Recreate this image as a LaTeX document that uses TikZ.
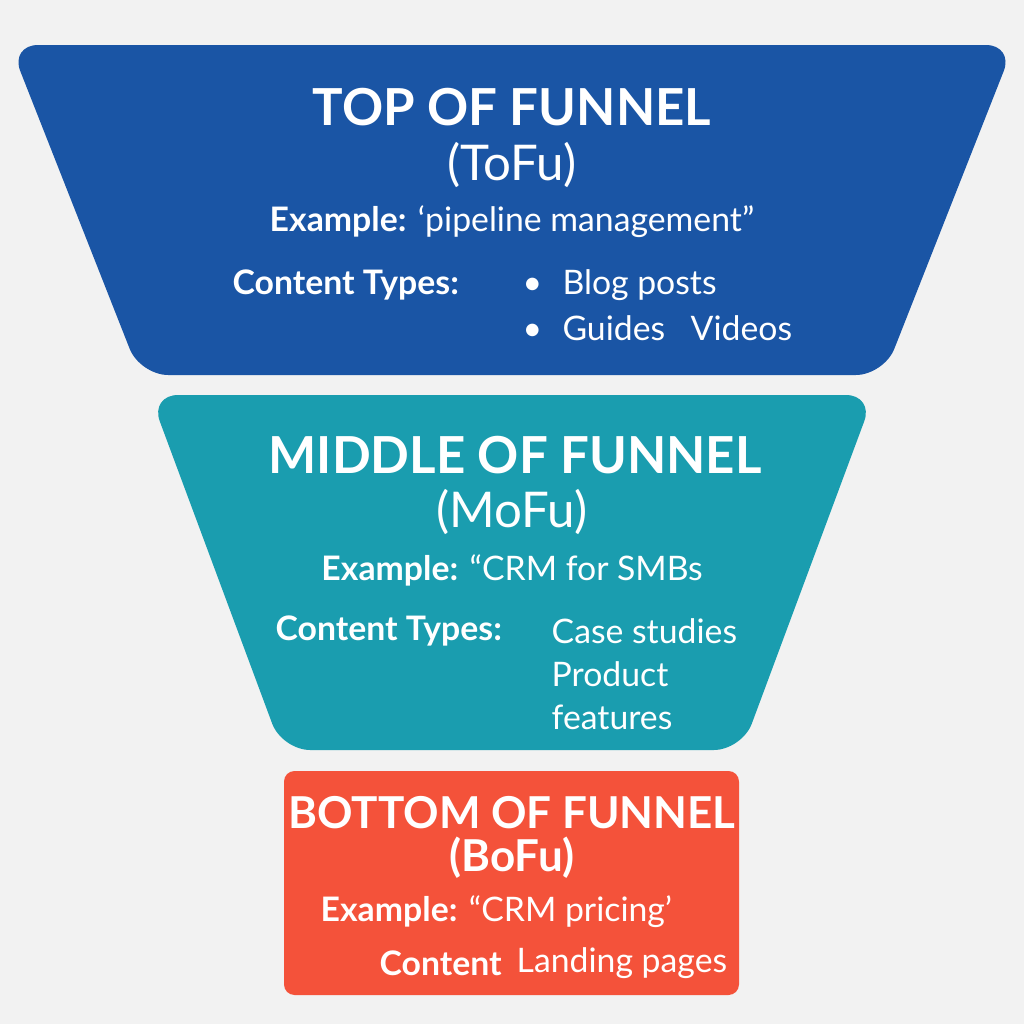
\documentclass[tikz,border=0pt]{standalone}
\usepackage{fontspec}
\setmainfont{Lato}
\definecolor{tofublue}{RGB}{26,85,165}
\definecolor{mofuteal}{RGB}{26,157,175}
\definecolor{bofured}{RGB}{244,82,58}
\definecolor{bggray}{RGB}{242,242,242}
\tikzset{
  stagetitle/.style={text=white,font=\bfseries\fontsize{14.5}{16}\selectfont},
  stagetag/.style={text=white,font=\fontsize{14}{16}\selectfont},
  stagetext/.style={text=white,font=\fontsize{9.6}{11}\selectfont,inner sep=0pt},
}
\begin{document}
\begin{tikzpicture}[x=0.01cm,y=-0.01cm]
  \fill[bggray] (0,0) rectangle (1024,1024);
  % funnel stages
  \fill[tofublue,rounded corners=8pt] (10,45) -- (1014,45) -- (884,375) -- (140,375) -- cycle;
  \fill[mofuteal,rounded corners=8pt] (150,395) -- (874,395) -- (742,750) -- (282,750) -- cycle;
  \fill[bofured,rounded corners=3pt] (284,771) rectangle (739,995);
  % top of funnel
  \node[stagetitle] (tofu) at (512,107) {TOP OF FUNNEL};
  \node[stagetag] (tofutag) at (512,165) {(ToFu)};
  \node[stagetext] (tofuex) at (512,222) {\textbf{Example:} ‘pipeline management”};
  \node[stagetext,anchor=west] (tofuct) at (232,285) {\textbf{Content Types:}};
  \node[stagetext,anchor=west] (tofua) at (522,285) {•\hspace{0.6em}Blog posts};
  \node[stagetext,anchor=west] (tofub) at (522,328) {•\hspace{0.6em}Guides\hspace{0.5em} Videos};
  % middle of funnel
  \node[stagetitle] (mofu) at (515,455) {MIDDLE OF FUNNEL};
  \node[stagetag] (mofutag) at (512,512) {(MoFu)};
  \node[stagetext] (mofuex) at (512,570) {\textbf{Example:} “CRM for SMBs};
  \node[stagetext,anchor=west] (mofuct) at (275,631) {\textbf{Content Types:}};
  \node[stagetext,anchor=west] (mofua) at (551,631) {Case studies};
  \node[stagetext,anchor=west] (mofub) at (551,674) {Product};
  \node[stagetext,anchor=west] (mofuc) at (551,717) {features};
  % bottom of funnel
  \node[stagetitle,font=\bfseries\fontsize{12.5}{14}\selectfont] (bofu) at (512,813) {BOTTOM OF FUNNEL};
  \node[stagetitle,font=\bfseries\fontsize{12.5}{14}\selectfont] (bofutag) at (512,858) {(BoFu)};
  \node[stagetext,anchor=west] (bofuex) at (320,912) {\textbf{Example:} “CRM pricing’};
  \node[stagetext,anchor=west] (bofuct) at (379,963) {\textbf{Content}};
  \node[stagetext,anchor=west] (bofua) at (516,963) {Landing pages};
\end{tikzpicture}
\end{document}
